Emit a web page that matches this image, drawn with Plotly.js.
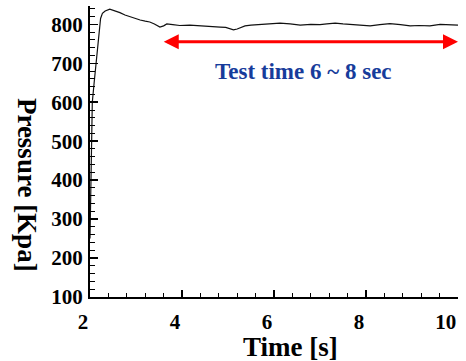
<!DOCTYPE html>
<html>
<head>
<meta charset="utf-8">
<script src="https://cdn.plot.ly/plotly-3.0.1.min.js"></script>
<style>html,body{margin:0;padding:0;background:#fff;}#chart{width:466px;height:361px;}</style>
</head>
<body>
<div id="chart"></div>
<script>
const time = [2.00,2.02,2.035,2.05,2.09,2.13,2.17,2.20,2.23,2.27,
  2.33,2.43,2.55,2.65,2.76,2.90,3.00,3.09,3.20,3.30,
  3.40,3.52,3.60,3.67,3.80,3.95,4.17,4.35,4.50,4.61,
  4.83,4.95,5.04,5.12,5.20,5.37,5.50,5.70,5.90,6.13,
  6.35,6.57,6.80,7.00,7.15,7.33,7.50,7.70,7.87,8.09,
  8.30,8.52,8.75,8.96,9.15,9.39,9.61,9.80,10.0];
const pressure = [250,420,540,600,650,700,745,783,815,828,
  834,839,835,830,824,818,814,811,808,806,
  801,793,796,801,799,797,798,797,795,796,
  793,792,789,786,788,796,798,800,801,803,
  801,798,800,799,801,803,801,799,798,796,
  799,802,799,796,797,796,800,799,798];
const xTicks = [2,4,6,8,10];
const yTicks = [100,200,300,400,500,600,700,800];
const testStart = 3.57, testEnd = 10, testLevel = 755;
const noteText = 'Test time 6 ~ 8 sec';
const xTitle = 'Time [s]';
const yTitle = 'Pressure [Kpa]';

const serif = 'Liberation Serif, Times New Roman, serif';

Plotly.newPlot('chart', [{
  x: time, y: pressure, type: 'scatter', mode: 'lines',
  line: {color: '#111', width: 1.2}, hoverinfo: 'skip'
}], {
  width: 466, height: 361,
  margin: {l: 90, r: 8, t: 6, b: 64},
  paper_bgcolor: '#fff', plot_bgcolor: '#fff',
  showlegend: false,
  xaxis: {
    range: [2, 10], tickvals: xTicks, ticktext: xTicks.map(String),
    showgrid: false, zeroline: false, showline: true, linecolor: '#000', linewidth: 2,
    ticks: 'inside', ticklen: 7, tickwidth: 1.5, tickcolor: '#000',
    minor: {dtick: 0.4, ticks: 'inside', ticklen: 4, tickwidth: 1, tickcolor: '#000', showgrid: false},
    tickfont: {family: serif, size: 21, weight: 'bold', color: '#000'},
    ticklabelposition: 'outside left',
    ticklabelstandoff: 5, ticklabeloverflow: 'allow'
  },
  yaxis: {
    range: [100, 847], tickvals: yTicks, ticktext: yTicks.map(String),
    showgrid: false, zeroline: false, showline: true, linecolor: '#000', linewidth: 2,
    ticks: 'inside', ticklen: 8, tickwidth: 1.5, tickcolor: '#000',
    minor: {dtick: 20, ticks: 'inside', ticklen: 5, tickwidth: 1, tickcolor: '#000', showgrid: false},
    tickfont: {family: serif, size: 21, weight: 'bold', color: '#000'},
    ticklabelstandoff: 1, ticklabeloverflow: 'allow'
  },
  annotations: [
    {x: testEnd, y: testLevel, ax: testStart, ay: testLevel, axref: 'x', ayref: 'y', xref: 'x', yref: 'y',
     text: '', showarrow: true, arrowhead: 2, startarrowhead: 2, arrowside: 'end+start',
     arrowsize: 1, startarrowsize: 1, arrowwidth: 3, arrowcolor: '#ff0000'},
    {x: 6.65, y: 678, xref: 'x', yref: 'y', text: noteText, showarrow: false,
     font: {family: serif, size: 23, weight: 'bold', color: '#173c9b'}},
    {x: 0.546, y: -0.172, xref: 'paper', yref: 'paper', text: xTitle, showarrow: false,
     xanchor: 'center', yanchor: 'middle',
     font: {family: serif, size: 27, weight: 'bold', color: '#000'}},
    {x: -0.171, y: 0.385, xref: 'paper', yref: 'paper', text: yTitle, showarrow: false,
     textangle: 90, xanchor: 'center', yanchor: 'middle',
     font: {family: serif, size: 27, weight: 'bold', color: '#000'}}
  ]
}, {displayModeBar: false, staticPlot: true});
</script>
</body>
</html>
